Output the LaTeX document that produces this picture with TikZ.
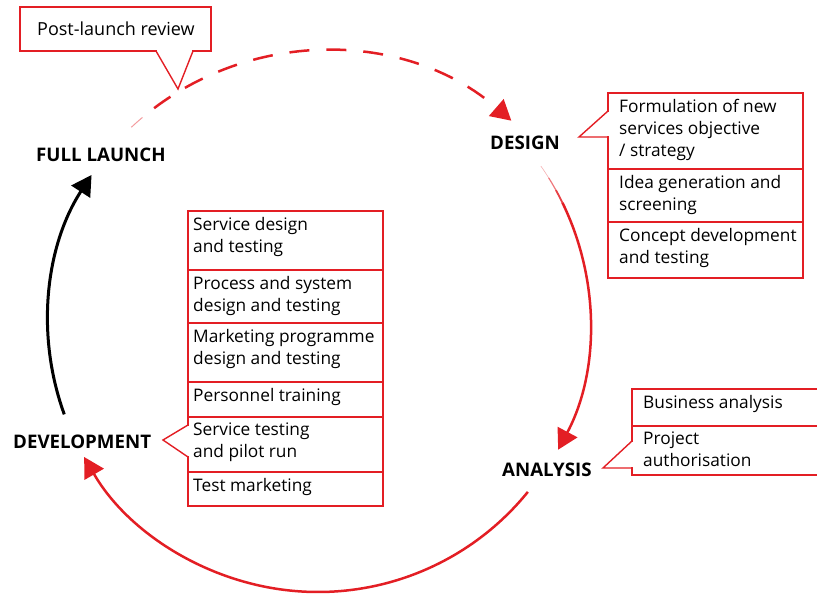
\documentclass[tikz,border=0pt]{standalone}
\usepackage{fontspec}
\setmainfont{Open Sans}
\usetikzlibrary{arrows.meta}
\definecolor{cyclered}{HTML}{E31E24}

\begin{document}
\begin{tikzpicture}[x=1pt, y=-1pt,
    item/.style={anchor=north west, inner sep=0pt, align=left, font=\fontsize{17.3}{22}\selectfont},
    stage/.style={anchor=base west, inner sep=0pt, font=\bfseries\fontsize{18.7}{22}\selectfont},
    boxline/.style={draw=cyclered, line width=1.4pt},
    loopline/.style={cyclered, line width=2.5pt, -{Triangle[length=20pt,width=22pt]}}]
    \clip (0,0) rectangle (817,596);

    % stages
    \node[stage] (fl) at (36,162) {FULL LAUNCH};
    \node[stage] (ds) at (490,150) {DESIGN};
    \node[stage] (an) at (502,476) {ANALYSIS};
    \node[stage] (dv) at (13,448) {DEVELOPMENT};

    % cycle
    \coordinate (c) at (318,322);
    \coordinate (cp) at (325,335);
    \coordinate (plstart) at ([shift={(-133:284)}]cp);
    \coordinate (plmain) at ([shift={(-127:284)}]cp);
    \coordinate (dsout) at ([shift={(-26:272)}]c);
    \coordinate (anout) at ([shift={(39:270)}]c);
    \coordinate (dvout) at ([shift={(160:270)}]c);

    \draw[cyclered!45, line width=1pt] (plstart) arc[start angle=-133, end angle=-130, radius=284];
    \draw[loopline, dash pattern=on 20pt off 17pt] (plmain) arc[start angle=-127, end angle=-49, radius=284];
    \foreach \a/\b/\w/\o in {35/32/0.6/0.35, 32/29/1.2/0.6, 29/26/1.8/0.85}{
        \draw[cyclered, line width=\w pt, opacity=\o] ([shift={(-\a:272)}]c) arc[start angle=-\a, end angle=-\b, radius=272];
    }
    \draw[loopline] (dsout) arc[start angle=-26, end angle=28, radius=272];
    \draw[loopline] (anout) arc[start angle=39, end angle=150, radius=270];
    \draw[loopline, black, line width=3pt] (dvout) arc[start angle=160, end angle=213, radius=270];

    % post-launch callout
    \draw[boxline] (20,7) rectangle (211,51);
    \draw[white, line width=2pt] (157,51) -- (192,51);
    \draw[boxline] (156,51) -- (178,89) -- (193,51);
    \node[anchor=base west, inner sep=0pt, font=\fontsize{18}{22}\selectfont] (plr) at (37,36) {Post-launch review};

    % design steps
    \foreach \top/\bot/\txt [count=\i] in {93/169/{Formulation of new\\services objective\\/ strategy},
                                          169/222/{Idea generation and\\screening},
                                          222/278/{Concept development\\and testing}}{
        \draw[boxline] (608,\top) rectangle (803,\bot);
        \node[item] (ds\i) at (619,\top+6) {\txt};
    }
    \draw[white, line width=2pt] (608,112) -- (608,136);
    \draw[boxline] (608,111) -- (579,137) -- (608,137);

    % analysis steps
    \foreach \top/\bot/\txt [count=\i] in {389/426/{Business analysis},
                                          426/475/{Project\\authorisation}}{
        \draw[boxline] (632,\top) rectangle (830,\bot);
        \node[item] (an\i) at (643,\top+6) {\txt};
    }
    \draw[white, line width=2pt] (632,442) -- (632,467);
    \draw[boxline] (632,441) -- (603,468) -- (632,468);

    % development steps
    \foreach \top/\bot/\txt [count=\i] in {211/270/{Service design\\and testing},
                                          270/323/{Process and system\\design and testing},
                                          323/382/{Marketing programme\\design and testing},
                                          382/417/{Personnel training},
                                          417/472/{Service testing\\and pilot run},
                                          472/506/{Test marketing}}{
        \draw[boxline] (188,\top) rectangle (383,\bot);
        \node[item] (dv\i) at (193,\top+6) {\txt};
    }
    \draw[white, line width=2pt] (188,426) -- (188,456);
    \draw[boxline] (188,425) -- (163,440) -- (188,457);
\end{tikzpicture}
\end{document}
